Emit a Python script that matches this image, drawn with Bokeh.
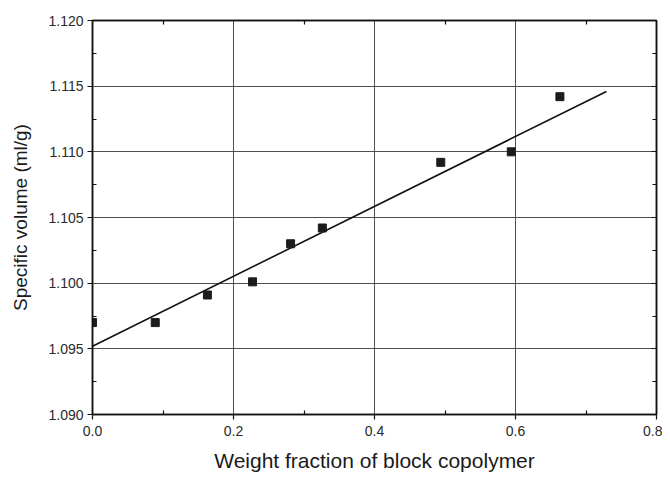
from bokeh.plotting import figure
from bokeh.models import LinearAxis, FixedTicker, Range1d, PrintfTickFormatter, CustomJSTickFormatter
from bokeh.embed import file_html
from bokeh.resources import INLINE

# Data
weight_fraction = [0.0, 0.089, 0.163, 0.227, 0.281, 0.326, 0.494, 0.594, 0.663]
specific_volume = [1.0970, 1.0970, 1.0991, 1.1001, 1.1030, 1.1042, 1.1092, 1.1100, 1.1142]
fit_x = [0.0, 0.729]
fit_y = [1.0952, 1.1146]

x_ticks = [0.0, 0.2, 0.4, 0.6, 0.8]
x_minor = [0.1, 0.3, 0.5, 0.7]
y_ticks = [1.090, 1.095, 1.100, 1.105, 1.110, 1.115, 1.120]
y_minor = [1.0925, 1.0975, 1.1025, 1.1075, 1.1125, 1.1175]
x_label = "Weight fraction of block copolymer"
y_label = "Specific volume (ml/g)"

FONT = "Liberation Sans"

p = figure(width=662, height=476, output_backend="svg", toolbar_location=None,
           x_range=Range1d(0.0, 0.8), y_range=Range1d(1.090, 1.120),
           min_border_left=92, min_border_top=20, min_border_right=6, min_border_bottom=62)
p.background_fill_color = "white"
p.border_fill_color = "white"
p.outline_line_color = "#111111"
p.outline_line_width = 1.5

# grid
p.xgrid.ticker = FixedTicker(ticks=x_ticks)
p.ygrid.ticker = FixedTicker(ticks=y_ticks)
for g in (p.xgrid, p.ygrid):
    g.grid_line_color = "#4f4f4f"
    g.grid_line_width = 1.0

def style(ax):
    ax.axis_line_color = "#111111"
    ax.axis_line_width = 1.5
    ax.major_tick_line_color = "#111111"
    ax.minor_tick_line_color = "#111111"
    ax.major_tick_line_width = 1.2
    ax.minor_tick_line_width = 1.2
    ax.major_label_text_font = FONT
    ax.major_label_text_font_size = "14px"
    ax.major_label_text_color = "#2a2a2a"
    ax.axis_label_text_font = FONT
    ax.axis_label_text_font_style = "normal"
    ax.axis_label_text_color = "#1a1a1a"

xa = p.xaxis[0]
xa.ticker = FixedTicker(ticks=x_ticks, minor_ticks=x_minor)
style(xa)
xa.formatter = PrintfTickFormatter(format="%.1f")
xa.major_tick_out = 5
xa.major_tick_in = 0
xa.minor_tick_in = 4
xa.minor_tick_out = 0
xa.major_label_standoff = 6
xa.axis_label = x_label
xa.axis_label_text_font_size = "21px"
xa.axis_label_standoff = 10

ya = p.yaxis[0]
ya.ticker = FixedTicker(ticks=y_ticks, minor_ticks=y_minor)
style(ya)
ya.formatter = PrintfTickFormatter(format="%.3f")
ya.major_tick_out = 5
ya.major_tick_in = 0
ya.minor_tick_in = 4
ya.minor_tick_out = 0
ya.major_label_standoff = 4
ya.axis_label = y_label
ya.axis_label_text_font_size = "19px"
ya.axis_label_standoff = 14

blank = CustomJSTickFormatter(code="return ''")

# top and right axes (ticks only)
top = LinearAxis(ticker=FixedTicker(ticks=x_ticks, minor_ticks=x_minor), formatter=blank)
style(top)
top.major_tick_in = 0
top.major_tick_out = 0
top.minor_tick_in = 4
top.minor_tick_out = 0
top.major_label_standoff = 0
p.add_layout(top, "above")

right = LinearAxis(ticker=FixedTicker(ticks=y_ticks, minor_ticks=y_minor), formatter=blank)
style(right)
right.major_tick_in = 5
right.major_tick_out = 0
right.minor_tick_in = 4
right.minor_tick_out = 0
right.major_label_standoff = 0
p.add_layout(right, "right")

p.line(fit_x, fit_y, line_color="#111111", line_width=1.6)
p.scatter(weight_fraction, specific_volume, marker="square", size=8,
          fill_color="#1c1c1c", line_color="#1c1c1c")

open("out.html", "w").write(file_html(p, INLINE))
